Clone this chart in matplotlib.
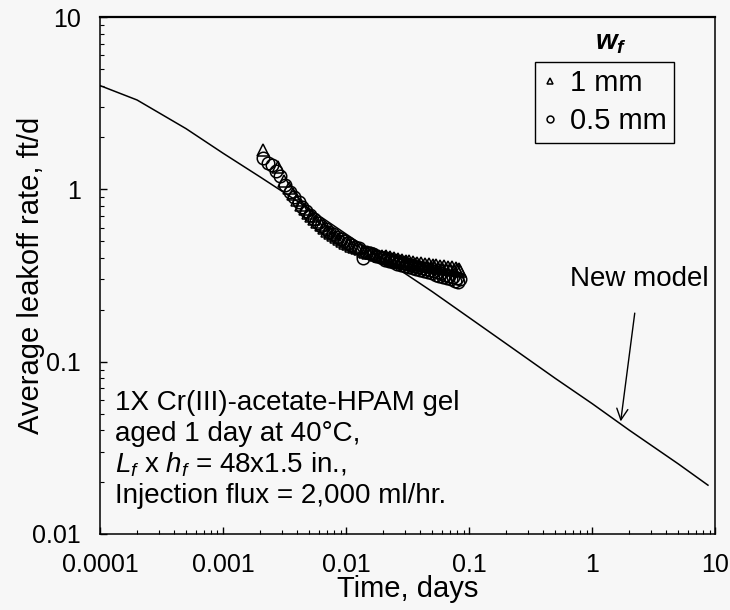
import matplotlib
matplotlib.use('Agg')
import matplotlib.pyplot as plt
from matplotlib.ticker import LogLocator, NullFormatter, FixedLocator, FixedFormatter

plt.rcParams['font.family'] = ['Liberation Sans', 'DejaVu Sans']
plt.rcParams['mathtext.fontset'] = 'custom'
plt.rcParams['mathtext.rm'] = 'Liberation Sans'
plt.rcParams['mathtext.it'] = 'Liberation Sans:italic'
plt.rcParams['mathtext.bf'] = 'Liberation Sans:bold'
plt.rcParams['mathtext.bfit'] = 'Liberation Sans:italic:bold'

# New model curve
t_model = [0.0001, 0.0002, 0.0005, 0.001, 0.002, 0.005, 0.01, 0.02, 0.05, 0.1,
           0.2, 0.5, 1, 2, 5, 8.7]
q_model = [4.0, 3.3, 2.25, 1.62, 1.18, 0.77, 0.55, 0.395, 0.255, 0.18,
           0.127, 0.08, 0.057, 0.040, 0.0255, 0.0192]

# w_f = 1 mm (triangles)
t_1mm = [0.0021, 0.0028, 0.0031, 0.0034, 0.0037, 0.0040, 0.0043, 0.0046, 0.0049, 0.0052,
         0.0055, 0.0058, 0.0062, 0.0066, 0.0070, 0.0074, 0.0078, 0.0083, 0.0088, 0.0093,
         0.0098, 0.0104, 0.0110, 0.0116, 0.0122, 0.0129, 0.0136, 0.0143, 0.0151, 0.0159,
         0.0167, 0.0176, 0.0185, 0.0195,
         0.0205, 0.0212, 0.0220, 0.0228, 0.0236, 0.0245, 0.0254, 0.0263, 0.0273, 0.0283,
         0.0293, 0.0304, 0.0315, 0.0327, 0.0339, 0.0351, 0.0364, 0.0377, 0.0391, 0.0405,
         0.0420, 0.0435, 0.0451, 0.0468, 0.0485, 0.0503, 0.0521, 0.0540, 0.0560, 0.0580,
         0.0602, 0.0624, 0.0647, 0.0670, 0.0695, 0.0720, 0.0747, 0.0774, 0.0802, 0.0825,
         0.0845]
q_1mm = [1.70, 1.35, 1.12, 1.02, 0.94, 0.87, 0.81, 0.77, 0.73, 0.70,
         0.67, 0.645, 0.62, 0.60, 0.575, 0.56, 0.545, 0.53, 0.515, 0.50,
         0.49, 0.48, 0.47, 0.46, 0.455, 0.45, 0.44, 0.435, 0.43, 0.425,
         0.42, 0.415, 0.41, 0.41,
         0.405, 0.41, 0.40, 0.405, 0.395, 0.40, 0.39, 0.395, 0.385, 0.39,
         0.38, 0.385, 0.375, 0.385, 0.37, 0.38, 0.37, 0.375, 0.365, 0.375,
         0.36, 0.37, 0.36, 0.37, 0.355, 0.365, 0.355, 0.365, 0.35, 0.36,
         0.35, 0.36, 0.345, 0.355, 0.345, 0.355, 0.34, 0.35, 0.34, 0.345,
         0.335]

# w_f = 0.5 mm (circles)
t_05mm = [0.0021, 0.0023, 0.0025, 0.0027, 0.0029, 0.0032, 0.0035, 0.0038, 0.0041, 0.0044,
          0.0047, 0.0051, 0.0055, 0.0059, 0.0063, 0.0068, 0.0073, 0.0078, 0.0084, 0.0090,
          0.0096, 0.0103, 0.0110, 0.0118, 0.0126, 0.0137, 0.0145, 0.0155, 0.0165, 0.0176,
          0.0188,
          0.0200, 0.0208, 0.0216, 0.0224, 0.0232, 0.0241, 0.0250, 0.0259, 0.0269, 0.0279,
          0.0289, 0.0300, 0.0311, 0.0322, 0.0334, 0.0346, 0.0359, 0.0372, 0.0386, 0.0400,
          0.0415, 0.0430, 0.0446, 0.0462, 0.0479, 0.0497, 0.0515, 0.0534, 0.0553, 0.0573,
          0.0594, 0.0616, 0.0638, 0.0661, 0.0685, 0.0710, 0.0736, 0.0762, 0.0790, 0.0815,
          0.0835]
q_05mm = [1.52, 1.42, 1.38, 1.28, 1.20, 1.06, 0.97, 0.90, 0.84, 0.79,
          0.75, 0.71, 0.67, 0.64, 0.615, 0.59, 0.565, 0.55, 0.53, 0.515,
          0.50, 0.485, 0.475, 0.465, 0.455, 0.40, 0.435, 0.425, 0.42, 0.41,
          0.405,
          0.40, 0.39, 0.395, 0.385, 0.39, 0.38, 0.385, 0.37, 0.38, 0.365,
          0.375, 0.36, 0.37, 0.355, 0.365, 0.35, 0.36, 0.345, 0.355, 0.34,
          0.35, 0.335, 0.345, 0.33, 0.34, 0.325, 0.335, 0.32, 0.33, 0.315,
          0.325, 0.31, 0.32, 0.305, 0.315, 0.30, 0.31, 0.295, 0.305, 0.29,
          0.30]

x_ticks = [0.0001, 0.001, 0.01, 0.1, 1, 10]
x_labels = ['0.0001', '0.001', '0.01', '0.1', '1', '10']
y_ticks = [0.01, 0.1, 1, 10]
y_labels = ['0.01', '0.1', '1', '10']

info_lines = ['1X Cr(III)-acetate-HPAM gel',
              'aged 1 day at 40°C,',
              r'$L_f$ x $h_f$ = 48x1.5 in.,',
              'Injection flux = 2,000 ml/hr.']

bg = '#f7f7f7'
fig = plt.figure(figsize=(7.3, 6.1), dpi=100, facecolor=bg)
ax = fig.add_axes([0.137, 0.1246, 0.843, 0.8475], facecolor=bg)

ax.plot(t_model, q_model, color='black', lw=1.1, zorder=2)
ax.plot(t_1mm, q_1mm, ls='none', marker='^', ms=9, mfc='none', mec='black', mew=1.1,
        label='1 mm', zorder=3)
ax.plot(t_05mm, q_05mm, ls='none', marker='o', ms=9, mfc='none', mec='black', mew=1.1,
        label='0.5 mm', zorder=3)

ax.set_xscale('log')
ax.set_yscale('log')
ax.set_xlim(0.0001, 10)
ax.set_ylim(0.01, 10)

ax.xaxis.set_major_locator(FixedLocator(x_ticks))
ax.xaxis.set_major_formatter(FixedFormatter(x_labels))
ax.yaxis.set_major_locator(FixedLocator(y_ticks))
ax.yaxis.set_major_formatter(FixedFormatter(y_labels))
ax.xaxis.set_minor_locator(LogLocator(base=10, subs=range(2, 10), numticks=20))
ax.yaxis.set_minor_locator(LogLocator(base=10, subs=range(2, 10), numticks=20))
ax.xaxis.set_minor_formatter(NullFormatter())
ax.yaxis.set_minor_formatter(NullFormatter())

ax.tick_params(axis='both', which='both', direction='in', top=False, right=False)
ax.tick_params(axis='both', which='major', length=5, width=1, labelsize=18)
ax.tick_params(axis='both', which='minor', length=3, width=0.8)
ax.tick_params(axis='x', which='major', pad=14)
ax.tick_params(axis='y', which='major', pad=14)

for side in ['left', 'bottom', 'right']:
    ax.spines[side].set_linewidth(1.1)
ax.spines['top'].set_linewidth(1.6)

ax.set_xlabel('Time, days', fontsize=21)
ax.set_ylabel('Average leakoff rate, ft/d', fontsize=21)
ax.xaxis.set_label_coords(0.5, -0.08)
ax.yaxis.set_label_coords(-0.09, 0.5)

leg = ax.legend(loc='upper right', bbox_to_anchor=(0.933, 0.913), borderaxespad=0,
                fontsize=21, frameon=True, fancybox=False, edgecolor='black',
                framealpha=1, facecolor=bg, markerscale=0.55, handlelength=0.5,
                handletextpad=0.45, labelspacing=0.35, borderpad=0.25)
leg.get_frame().set_linewidth(1.0)
ax.text(0.83, 0.95, r'$\mathbfit{w_f}$', transform=ax.transAxes, fontsize=20,
        ha='center', va='center')

for i, line in enumerate(info_lines):
    ax.text(0.024, 0.253 - i * 0.06, line, transform=ax.transAxes, fontsize=20,
            ha='left', va='center')

ax.annotate('New model', xy=(1.7, 0.045), xytext=(2.4, 0.3), fontsize=20,
            ha='center', va='center',
            arrowprops=dict(arrowstyle='->', color='black', lw=1.0,
                            shrinkA=13, shrinkB=0))

fig.savefig('out.png', dpi=100, facecolor=bg)
